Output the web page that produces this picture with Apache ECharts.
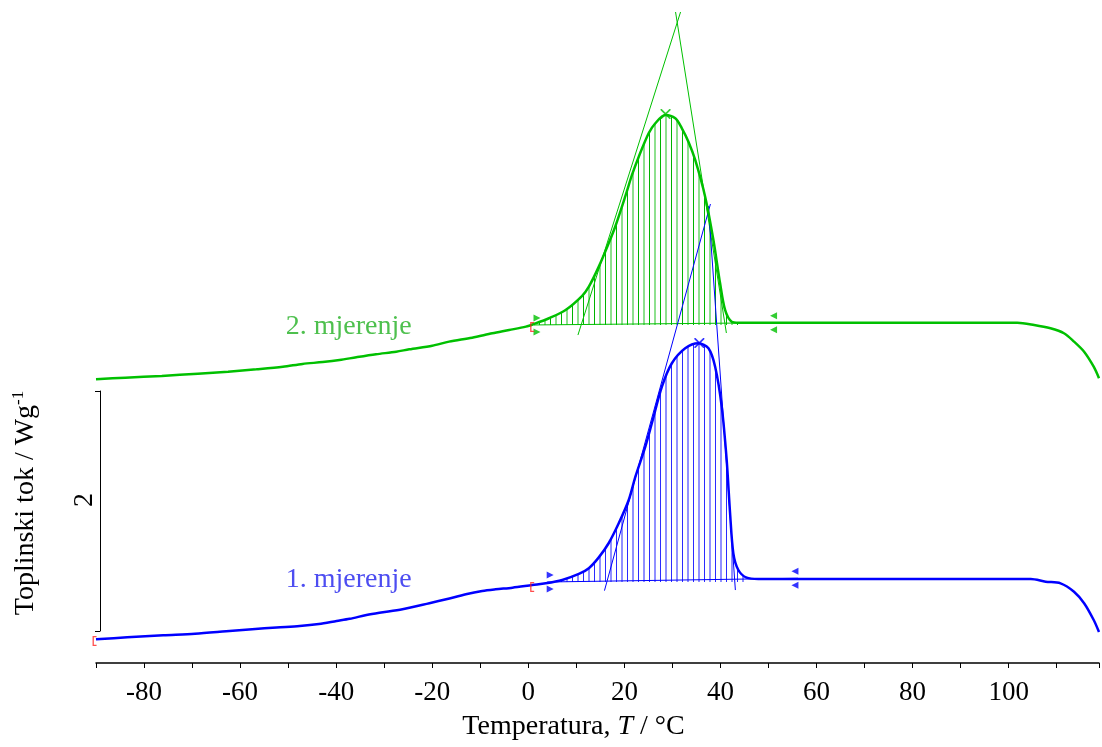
<!DOCTYPE html>
<html><head><meta charset="utf-8">
<script src="https://cdn.jsdelivr.net/npm/echarts@6/dist/echarts.min.js"></script>
<style>html,body{margin:0;padding:0;background:#fff}#c{width:1102px;height:747px}</style>
</head><body><div id="c"></div>
<script>
// ---- data (temperature °C, heat flow W/g with arbitrary offset) ----
const xTickLabels = [-80, -60, -40, -20, 0, 20, 40, 60, 80, 100];
const seriesNames = ['2. mjerenje', '1. mjerenje'];

const greenT = [-90, -83.9, -76.3, -68.8, -62.5, -56.6, -51.1, -47.0, -42.8, -39.3, -35.8, -31.7, -27.5, -24.8, -20.0, -16.5, -11.7, -7.5, -4.0, -0.5,
  1.18, 4.30, 7.76, 11.21, 12.6, 14.67, 16.75, 18.14, 20.21, 21.58, 22.97, 25.05, 26.44, 28.51, 30.59, 31.96, 33.35, 34.74, 36.81, 38.53, 39.92, 40.96, 42.33, 43.72,
  101.8, 105.3, 108.7, 111.5, 113.6, 115.7, 117.7, 118.8];
const greenV = [2.364, 2.378, 2.392, 2.411, 2.428, 2.448, 2.469, 2.492, 2.508, 2.525, 2.548, 2.573, 2.594, 2.614, 2.644, 2.678, 2.711, 2.748, 2.775, 2.803,
  2.825, 2.873, 2.942, 3.060, 3.136, 3.303, 3.500, 3.642, 3.892, 4.067, 4.217, 4.414, 4.498, 4.567, 4.539, 4.456, 4.342, 4.192, 3.886, 3.525, 3.164, 2.942, 2.844, 2.836,
  2.836, 2.817, 2.789, 2.748, 2.678, 2.594, 2.469, 2.373];

const blueT = [-90, -83.5, -76.0, -69.4, -62.9, -57.5, -52.4, -47.6, -43.6, -39.9, -37.2, -33.7, -31.0, -26.2, -20.6, -17.1, -13.0, -9.6, -6.8, -3.3, 0.83,
  3.61, 7.06, 10.52, 12.6, 14.67, 16.75, 18.82, 20.90, 22.29, 24.36, 25.73, 27.81, 29.88, 32.66, 35.42, 37.50, 38.89, 40.26, 41.29, 42.00, 42.68, 43.72, 45.44, 47.87,
  104.6, 107.7, 110.8, 113.6, 115.7, 117.7, 118.8];
const blueV = [0.198, 0.214, 0.231, 0.244, 0.264, 0.281, 0.296, 0.308, 0.325, 0.350, 0.368, 0.400, 0.419, 0.448, 0.498, 0.531, 0.573, 0.600, 0.614, 0.628, 0.650,
  0.664, 0.692, 0.742, 0.790, 0.880, 1.000, 1.164, 1.358, 1.553, 1.803, 2.000, 2.303, 2.498, 2.623, 2.664, 2.623, 2.469, 2.136, 1.692, 1.248, 0.914, 0.775, 0.711, 0.700,
  0.700, 0.678, 0.664, 0.594, 0.498, 0.358, 0.258];

// peak integration baselines (start / end)
const greenBaseT = [1.18, 51.67], greenBaseV = [2.817, 2.836];
const blueBaseT = [3.92, 56.13], blueBaseV = [0.675, 0.706];
// onset / endset tangents
const greenTanLT = [10.33, 31.69], greenTanLV = [2.733, 5.425];
const greenTanRT = [30.65, 41.23], greenTanRV = [5.425, 2.750];
const blueTanLT = [15.85, 37.91], blueTanLV = [0.603, 3.825];
const blueTanRT = [37.49, 43.10], blueTanRV = [3.808, 0.608];
// peak maxima
const peakT = [28.57, 35.6], peakV = [4.575, 2.667];
// red markers
const redT = [-90.3, 0.8, 0.8], redV = [0.183, 0.633, 2.80];
// label anchors
const labelT = [-37.4, -37.4], labelV = [2.80, 0.692];
// scale bar (W/g)
const scaleBar = [0, 2];

// ---- styling ----
const FONT = 'Liberation Serif';
const GREEN = '#00c000', BLUE = '#0000ff';
const pairs = (a, b) => a.map((t, i) => [t, b[i]]);
function stripes(dark, light) {
  const c = document.createElement('canvas');
  c.width = 11; c.height = 4;
  const g = c.getContext('2d');
  g.fillStyle = dark; g.fillRect(0, 0, 1, 4);
  g.fillStyle = light; g.fillRect(5, 0, 2, 4);
  return { image: c, repeat: 'repeat' };
}
const inRange = (T, V, a, b) => pairs(T, V).filter(p => p[0] >= a - 0.4 && p[0] <= b + 0.01);
const X_PATH = 'path://M0,0L1.2,0L10,8.8L10,10L8.8,10L0,1.2ZM10,0L10,1.2L1.2,10L0,10L0,8.8L8.8,0Z';
const BR_PATH = 'path://M0,0L4,0L4,1.3L1.3,1.3L1.3,8.7L4,8.7L4,10L0,10Z';

function thinLine(T, V, color) {
  return { type: 'line', data: pairs(T, V), symbol: 'none', silent: true, z: 3,
    lineStyle: { color, width: 1 } };
}
function endMarks(T, V, color) {
  const d = pairs(T, V);
  return [
    { type: 'scatter', data: [d[0]], symbol: 'triangle', symbolSize: 7, symbolRotate: -90, symbolOffset: [3, -7], itemStyle: { color }, z: 6, silent: true },
    { type: 'scatter', data: [d[0]], symbol: 'triangle', symbolSize: 7, symbolRotate: -90, symbolOffset: [3, 7], itemStyle: { color }, z: 6, silent: true },
    { type: 'scatter', data: [d[1]], symbol: 'triangle', symbolSize: 7, symbolRotate: 90, symbolOffset: [-3, -7], itemStyle: { color }, z: 6, silent: true },
    { type: 'scatter', data: [d[1]], symbol: 'triangle', symbolSize: 7, symbolRotate: 90, symbolOffset: [-3, 7], itemStyle: { color }, z: 6, silent: true }
  ];
}

const chart = echarts.init(document.getElementById('c'), null, { renderer: 'canvas' });
const option = {
  animation: false,
  backgroundColor: '#fff',
  grid: [
    { left: 96, right: 0, top: 0, bottom: 84 },
    { left: 100, top: 391, height: 240, width: 100 }
  ],
  xAxis: [
    { type: 'value', gridIndex: 0, min: -90, max: 118.8, interval: 10,
      axisLine: { show: true, onZero: false, lineStyle: { color: '#000', width: 1.5 } },
      axisTick: { show: true, length: 5, lineStyle: { color: '#000', width: 1 } },
      splitLine: { show: false },
      axisLabel: { margin: 16, color: '#000', fontFamily: FONT, fontSize: 27,
        formatter: v => xTickLabels.indexOf(Math.round(v)) >= 0 && Math.abs(v - Math.round(v)) < 1e-6 ? String(Math.round(v)) : '' },
      name: 'Temperatura, {i|T} / °C', nameLocation: 'middle', nameGap: 50,
      nameTextStyle: { color: '#000', fontFamily: FONT, fontSize: 28, padding: [0, 48, 0, 0],
        rich: { i: { fontStyle: 'italic', fontFamily: FONT, fontSize: 28, color: '#000' } } } },
    { type: 'value', gridIndex: 1, min: 0, max: 1, show: false }
  ],
  yAxis: [
    { type: 'value', gridIndex: 0, min: 0, max: 5.525, show: false },
    { type: 'value', gridIndex: 1, min: scaleBar[0], max: scaleBar[1], interval: 2,
      axisLine: { show: true, lineStyle: { color: '#000', width: 1 } },
      axisTick: { show: true, length: 5, lineStyle: { color: '#000', width: 1 } },
      axisLabel: { show: false }, splitLine: { show: false },
      name: String(scaleBar[1] - scaleBar[0]), nameLocation: 'middle', nameGap: 1, nameRotate: 90,
      nameTextStyle: { color: '#000', fontFamily: FONT, fontSize: 28, padding: [0, 0, 0, 22] } },
    { type: 'value', gridIndex: 1, min: 0, max: 2, position: 'left', offset: 50,
      axisLine: { show: false }, axisTick: { show: false }, axisLabel: { show: false }, splitLine: { show: false },
      name: '{a|Toplinski tok / Wg}{b|-1}', nameLocation: 'middle', nameGap: 8, nameRotate: 90,
      nameTextStyle: { color: '#000', fontFamily: FONT, fontSize: 28, padding: [0, 0, 0, 16],
        rich: { a: { fontFamily: FONT, fontSize: 28, color: '#000', lineHeight: 32 },
                b: { fontFamily: FONT, fontSize: 17, color: '#000', verticalAlign: 'top', lineHeight: 32, padding: [0, 0, 12, 0] } } } }
  ],
  series: [
    // hatched peak areas
    { type: 'line', data: inRange(greenT, greenV, greenBaseT[0], 43.72), symbol: 'none', smooth: 0.3, silent: true, z: 1,
      lineStyle: { width: 0 }, areaStyle: { color: stripes('#00b400', '#8ee08e'), opacity: 1, origin: greenBaseV[0] } },
    { type: 'line', data: inRange(blueT, blueV, blueBaseT[0], 45.44), symbol: 'none', smooth: 0.3, silent: true, z: 1,
      lineStyle: { width: 0 }, areaStyle: { color: stripes('#2a2aff', '#9090ff'), opacity: 1, origin: blueBaseV[0] } },
    // main curves
    { name: seriesNames[0], type: 'line', data: pairs(greenT, greenV), symbol: 'none', smooth: 0.3, z: 5,
      lineStyle: { color: GREEN, width: 2.5 } },
    { name: seriesNames[1], type: 'line', data: pairs(blueT, blueV), symbol: 'none', smooth: 0.3, z: 5,
      lineStyle: { color: BLUE, width: 2.5 } },
    // baselines and tangents
    thinLine(greenBaseT, greenBaseV, GREEN),
    thinLine(blueBaseT, blueBaseV, BLUE),
    thinLine(greenTanLT, greenTanLV, GREEN),
    thinLine(greenTanRT, greenTanRV, GREEN),
    thinLine(blueTanLT, blueTanLV, BLUE),
    thinLine(blueTanRT, blueTanRV, BLUE),
    // baseline limit markers
    ...endMarks(greenBaseT, greenBaseV, GREEN),
    ...endMarks(blueBaseT, blueBaseV, BLUE),
    // peak markers
    { type: 'scatter', data: [[peakT[0], peakV[0]]], symbol: X_PATH, symbolSize: 10, itemStyle: { color: GREEN }, z: 7, silent: true },
    { type: 'scatter', data: [[peakT[1], peakV[1]]], symbol: X_PATH, symbolSize: 10, itemStyle: { color: BLUE }, z: 7, silent: true },
    // red markers
    { type: 'scatter', data: pairs(redT, redV), symbol: BR_PATH, symbolSize: [4, 10], clip: false, itemStyle: { color: '#ff2020' }, z: 7, silent: true },
    // curve labels
    { type: 'scatter', data: [[labelT[0], labelV[0]]], symbolSize: 0.1, itemStyle: { color: 'transparent' }, silent: true,
      label: { show: true, position: 'inside', formatter: seriesNames[0], color: '#22b022', fontFamily: FONT, fontSize: 28 } },
    { type: 'scatter', data: [[labelT[1], labelV[1]]], symbolSize: 0.1, itemStyle: { color: 'transparent' }, silent: true,
      label: { show: true, position: 'inside', formatter: seriesNames[1], color: '#2020ee', fontFamily: FONT, fontSize: 28 } }
  ]
};
chart.setOption(option);
</script>
</body></html>
